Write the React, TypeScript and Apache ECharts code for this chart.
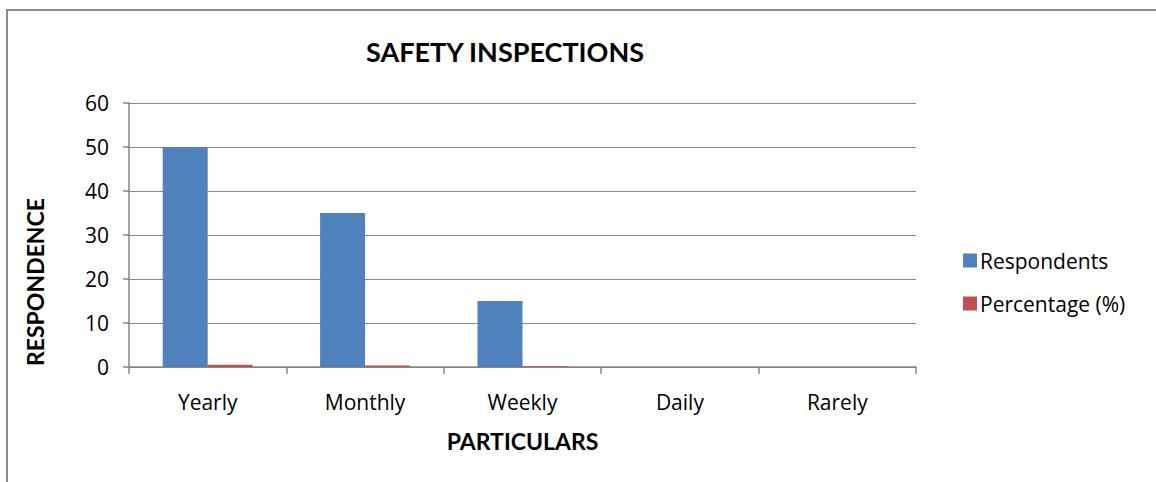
import React, { useEffect, useRef } from "react";
import * as echarts from "echarts";

const categories = ["Yearly", "Monthly", "Weekly", "Daily", "Rarely"];
const respondents = [50, 35, 15, 0, 0];
const percentage = [0.5, 0.35, 0.15, 0, 0];
const seriesNames = ["Respondents", "Percentage (%)"];

const FONT = "'Open Sans', sans-serif";
const BOLD = "Lato, sans-serif";
const GRAY = "#868686";

export default function App() {
  const ref = useRef<HTMLDivElement>(null);
  useEffect(() => {
    if (!ref.current) return;
    const chart = echarts.init(ref.current, null, { renderer: "svg" });
    chart.setOption({
      animation: false,
      backgroundColor: "#ffffff",
      textStyle: { fontFamily: FONT },
      title: {
        text: "SAFETY INSPECTIONS",
        left: 500,
        top: 33,
        textAlign: "center",
        textStyle: { fontFamily: BOLD, fontSize: 27, fontWeight: "bold", color: "#000" },
      },
      legend: {
        orient: "vertical",
        left: 958,
        top: 245,
        itemWidth: 14,
        itemHeight: 14,
        itemGap: 22,
        icon: "rect",
        data: seriesNames,
        textStyle: { fontFamily: FONT, fontSize: 21, color: "#000", padding: [0, 0, 0, -2] },
      },
      grid: { left: 129, top: 103, right: 240, bottom: 115 },
      xAxis: {
        type: "category",
        data: categories,
        name: "PARTICULARS",
        nameLocation: "middle",
        nameGap: 62,
        nameTextStyle: { fontFamily: BOLD, fontSize: 23, fontWeight: "bold", color: "#000" },
        axisLine: { lineStyle: { color: GRAY, width: 1.5 } },
        axisTick: { show: true, length: 7, alignWithLabel: false, lineStyle: { color: GRAY, width: 1.5 } },
        axisLabel: { fontFamily: FONT, fontSize: 21, color: "#000", margin: 24 },
      },
      yAxis: {
        type: "value",
        min: 0,
        max: 60,
        interval: 10,
        axisLine: { show: true, lineStyle: { color: GRAY, width: 1.5 } },
        axisTick: { show: true, length: 6, lineStyle: { color: GRAY, width: 1.5 } },
        splitLine: { lineStyle: { color: GRAY, width: 1.2 } },
        axisLabel: { fontFamily: FONT, fontSize: 21, color: "#000", margin: 20 },
      },
      series: [
        {
          name: seriesNames[0],
          type: "bar",
          data: respondents,
          barWidth: 45,
          barGap: "0%",
          itemStyle: { color: "#4F81BD" },
        },
        {
          name: seriesNames[1],
          type: "bar",
          data: percentage,
          barWidth: 45,
          barGap: "0%",
          itemStyle: { color: "#C0504D" },
        },
      ],
      graphic: [
        {
          type: "rect",
          shape: { x: 7, y: 10, width: 1200, height: 520 },
          style: { fill: "none", stroke: "#8c8c8c", lineWidth: 2 },
          silent: true,
        },
        {
          type: "text",
          x: 35,
          y: 282,
          rotation: Math.PI / 2,
          style: {
            text: "RESPONDENCE",
            fontFamily: BOLD,
            fontSize: 23,
            fontWeight: "bold",
            fill: "#000",
            align: "center",
            verticalAlign: "middle",
          },
        },
      ],
    });
    return () => chart.dispose();
  }, []);
  return (
    <div
      ref={ref}
      style={{ position: "fixed", left: 0, top: 0, width: 1156, height: 482 }}
    />
  );
}
